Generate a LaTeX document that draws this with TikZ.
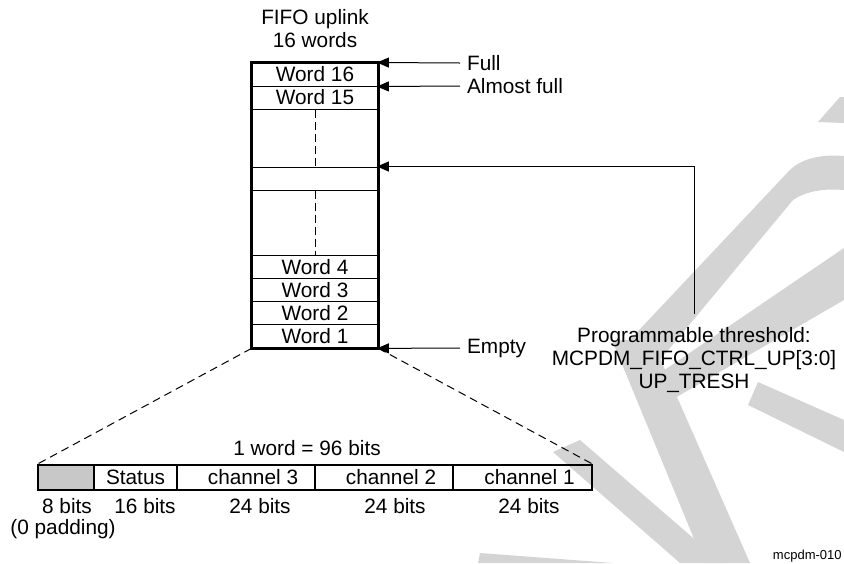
\documentclass[tikz,border=0pt]{standalone}
\usepackage{fontspec}
\setmainfont{Liberation Sans}
\usetikzlibrary{arrows.meta}
\definecolor{wmgray}{RGB}{212,212,212}
\definecolor{padgray}{RGB}{200,200,200}

\begin{document}
\begin{tikzpicture}[x=0.5pt,y=-0.5pt,
  every node/.style={font=\fontsize{10.4}{11.5}\selectfont},
  wordcell/.style={draw,line width=0.5pt,minimum width=63pt,minimum height=11.5pt,inner sep=0pt},
  bitcell/.style={draw,line width=0.8pt,minimum height=12.5pt,inner sep=0pt},
  chcell/.style={bitcell,execute at begin node={\hspace*{7pt}}},
  ptr/.style={line width=0.5pt,-{Triangle[length=6pt,width=5pt]},shorten >=-0.8pt},
  zoomline/.style={line width=0.5pt,dash pattern=on 4pt off 2.5pt}]
  \useasboundingbox (0,0) rectangle (844,563);
  \fill[wmgray] (553,452) -- (580,440) -- (722,563) -- (680,563) -- cycle;
  \fill[wmgray] (612,340) -- (652,340) -- (750,563) -- (704,563) -- cycle;
  \fill[wmgray] (625,345) -- (787,173) .. controls (800,158) and (822,154) .. (844,156)
    -- (844,190) .. controls (822,188) and (805,192) .. (793,200) -- (660,360) -- cycle;
  \fill[wmgray] (844,248) -- (844,300) -- (668,402) -- (638,388) -- cycle;
  \fill[wmgray] (758,382) -- (844,420) -- (844,452) -- (748,405) -- cycle;
  \fill[wmgray] (818,122) -- (840,97) -- (844,97) -- (844,123) -- cycle;
  \fill[wmgray] (480,553) -- (613,563) -- (478,563) -- cycle;
  \node[wordcell] (w16) at (315,74.5) {Word 16};
  \node[wordcell] (w15) at (315,97.5) {Word 15};
  \node[wordcell] (wthr) at (315,178.5) {};
  \foreach \n/\yc in {4/266.6,3/289.9,2/313.1,1/336.4}
    \node[wordcell] (w\n) at (315,\yc) {Word \n};
  \draw[line width=1.6pt] (w16.north west) rectangle (w1.south east);
  \draw[line width=0.5pt,dash pattern=on 4pt off 2pt] (w15.south) -- (wthr.north);
  \draw[line width=0.5pt,dash pattern=on 4pt off 2pt] (wthr.south) -- (w4.north);
  \node[align=center,anchor=south] (title) at ([yshift=4pt]w16.north) {FIFO uplink\\16 words};
  \node[anchor=west] (lfull) at (460,63) {Full};
  \node[anchor=west] (lafull) at (460,86) {Almost full};
  \node[anchor=west] (lempty) at (460,348) {Empty};
  \draw[ptr] (lfull.west) -- (w16.north east);
  \draw[ptr] (lafull.west) -- (w16.south east);
  \draw[ptr] (lempty.west) -- (w1.south east);
  \node[align=center,anchor=north,outer sep=3.5pt] (thr) at (694,314)
    {Programmable threshold:\\MCPDM\_FIFO\_CTRL\_UP[3:0]\\UP\_TRESH};
  \draw[ptr] (thr.north) |- (wthr.north east);
  \node[bitcell,fill=padgray,minimum width=28pt] (pad) at (66,477.5) {};
  \node[bitcell,minimum width=41.5pt] (stat) at (135.5,477.5) {Status};
  \node[chcell,minimum width=69pt] (ch3) at (246,477.5) {channel 3};
  \node[chcell,minimum width=69pt] (ch2) at (384,477.5) {channel 2};
  \node[chcell,minimum width=69.5pt] (ch1) at (522.5,477.5) {channel 1};
  \draw[zoomline] (w1.south west) -- (pad.north west);
  \draw[zoomline] (w1.south east) -- (ch1.north east);
  \node[anchor=base] (wlen) at (307,455) {1 word = 96 bits};
  \node[anchor=base] (b8) at (67,513) {8 bits};
  \node[anchor=base] (b16) at (145,513) {16 bits};
  \node[anchor=base] (b24c) at (260,513) {24 bits};
  \node[anchor=base] (b24b) at (395,513) {24 bits};
  \node[anchor=base] (b24a) at (529,513) {24 bits};
  \node[anchor=base] (padnote) at (63,534) {(0 padding)};
  \node[anchor=base east,inner sep=0pt,font=\fontsize{6.5}{8}\selectfont] (figid) at (842,559) {mcpdm-010};
\end{tikzpicture}
\end{document}
